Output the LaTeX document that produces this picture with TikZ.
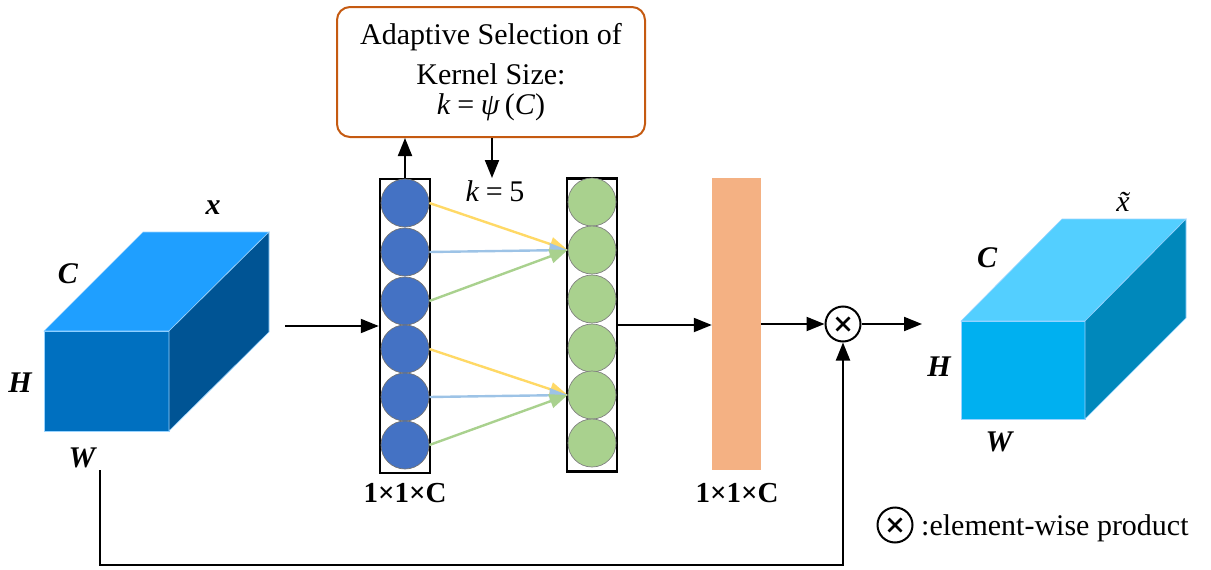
\documentclass[tikz,border=0pt]{standalone}
\usepackage{fontspec}
\setmainfont{Liberation Serif}
\usetikzlibrary{arrows.meta}
\definecolor{boxor}{HTML}{C55A11}
\definecolor{bcol}{HTML}{4472C4}
\definecolor{gcol}{HTML}{A9D18E}
\definecolor{orng}{HTML}{F4B183}
\definecolor{ylw}{HTML}{FFD966}
\definecolor{lblue}{HTML}{9DC3E6}
\definecolor{lgreen}{HTML}{A9D18E}
\definecolor{ctopA}{HTML}{1F9FFF}
\definecolor{cfrontA}{HTML}{0070C0}
\definecolor{csideA}{HTML}{005494}
\definecolor{ctopB}{HTML}{53CFFF}
\definecolor{cfrontB}{HTML}{00B0F0}
\definecolor{csideB}{HTML}{0088BB}
\newcommand{\eqsp}{\hspace{0.22em}=\hspace{0.22em}}
\tikzset{
  every node/.style={font=\fontsize{30}{40}\selectfont},
  arr/.style={line width=2pt, -{Triangle[length=18pt,width=14pt]}},
  carr/.style={line width=2.4pt, -{Triangle[length=18pt,width=14pt]}},
  colbox/.style={draw, line width=2.5pt, minimum width=50pt, inner sep=0pt},
  bcircle/.style={circle, fill=bcol, draw=black!55, line width=0.7pt, minimum size=48pt, inner sep=0pt},
  gcircle/.style={circle, fill=gcol, draw=black!50, line width=0.7pt, minimum size=48pt, inner sep=0pt},
  otimesnode/.style={circle, draw, line width=2pt, minimum size=35pt, inner sep=0pt,
    path picture={\draw[line width=2.6pt] ([shift={(-6.5pt,-6.5pt)}]path picture bounding box.center) -- ([shift={(6.5pt,6.5pt)}]path picture bounding box.center)
      ([shift={(-6.5pt,6.5pt)}]path picture bounding box.center) -- ([shift={(6.5pt,-6.5pt)}]path picture bounding box.center);}},
  dimlabel/.style={anchor=base, font=\fontsize{30}{36}\selectfont\bfseries\itshape},
  sizelabel/.style={anchor=base, font=\fontsize{29}{36}\selectfont\bfseries},
  cubeedge/.style={draw=white!55!ctopA, line width=0.6pt}
}
\begin{document}
\begin{tikzpicture}[x=1pt,y=-1pt]
\useasboundingbox (0,0) rectangle (1211,570);

% input cube
\fill[cfrontA, cubeedge] (44,331) rectangle (169,431);
\fill[ctopA, cubeedge] (44,331) -- (143,232) -- (269,232) -- (169,331) -- cycle;
\fill[csideA, cubeedge] (169,331) -- (269,232) -- (269,332) -- (169,431) -- cycle;
\node[dimlabel] (lx) at (213,214) {x};
\node[dimlabel] (lC) at (68,283) {C};
\node[dimlabel] (lH) at (20,392) {H};
\node[dimlabel] (lW) at (82,467) {W};

% output cube
\fill[cfrontB, cubeedge] (961,321) rectangle (1085,419);
\fill[ctopB, cubeedge] (961,321) -- (1062,219) -- (1186,219) -- (1085,321) -- cycle;
\fill[csideB, cubeedge] (1085,321) -- (1186,219) -- (1186,318) -- (1085,419) -- cycle;
\node[anchor=base, font=\fontsize{30}{36}\selectfont\itshape] (lxt) at (1123,211) {\~{x}};
\node[dimlabel] (rC) at (987,267) {C};
\node[dimlabel] (rH) at (939,376) {H};
\node[dimlabel] (rW) at (999,451) {W};

% top box
\node[draw=boxor, line width=2pt, rounded corners=13pt, minimum width=308pt, minimum height=130pt, align=center, inner sep=0pt] (box) at (491,72)
  {Adaptive Selection of\\ Kernel Size:\\[-10pt] \textit{k}\eqsp\textit{ψ}\,(\textit{C})};

% columns
\node[colbox, minimum height=294pt] (bcolumn) at (405,326) {};
\node[colbox, minimum height=293pt] (gcolumn) at (592,325) {};
\foreach \i/\y in {1/203,2/252,3/301,4/349,5/397,6/445}
  \node[bcircle] (b\i) at (405,\y) {};
\foreach \i/\y in {1/202,2/250,3/299,4/348,5/395,6/443}
  \node[gcircle] (g\i) at (592,\y) {};

\node[fill=orng, minimum width=49pt, minimum height=292pt, inner sep=0pt] (orect) at (736.5,324) {};
\node[otimesnode] (ot) at (843,324) {};

% size labels
\node[sizelabel] (s1) at (405,502) {1×1×C};
\node[sizelabel] (s2) at (737,502) {1×1×C};

% k = 5
\node[anchor=base] (k5) at (495,201) {\textit{k}\eqsp 5};

% coordinates
\coordinate (in1) at (285,326);
\coordinate (kd) at (492,178);
\coordinate (outend) at (922,324);
\coordinate (ws) at (100,470);
\coordinate (wc) at (843,565);

% arrows
\draw[arr] (in1) -- (bcolumn.west);
\draw[arr] (bcolumn.north) -- (bcolumn.north |- box.south);
\draw[arr] (kd |- box.south) -- (kd);
\draw[carr, ylw] (b1.east) -- (g2.west);
\draw[carr, lblue] (b2.east) -- (g2.west);
\draw[carr, lgreen] (b3.east) -- (g2.west);
\draw[carr, ylw] (b4.east) -- (g5.west);
\draw[carr, lblue] (b5.east) -- (g5.west);
\draw[carr, lgreen] (b6.east) -- (g5.west);
\draw[arr] (gcolumn.east) -- (orect.west |- gcolumn.east);
\draw[arr] (orect.east) -- (ot.west);
\draw[arr] (ot.east) -- (outend);
\draw[arr] (ws) |- (wc) -- (ot.south);

% legend
\node[otimesnode] (lg) at (895,525) {};
\node[anchor=base west, inner sep=0pt] (lgt) at (921,535) {:element-wise product};
\end{tikzpicture}
\end{document}
